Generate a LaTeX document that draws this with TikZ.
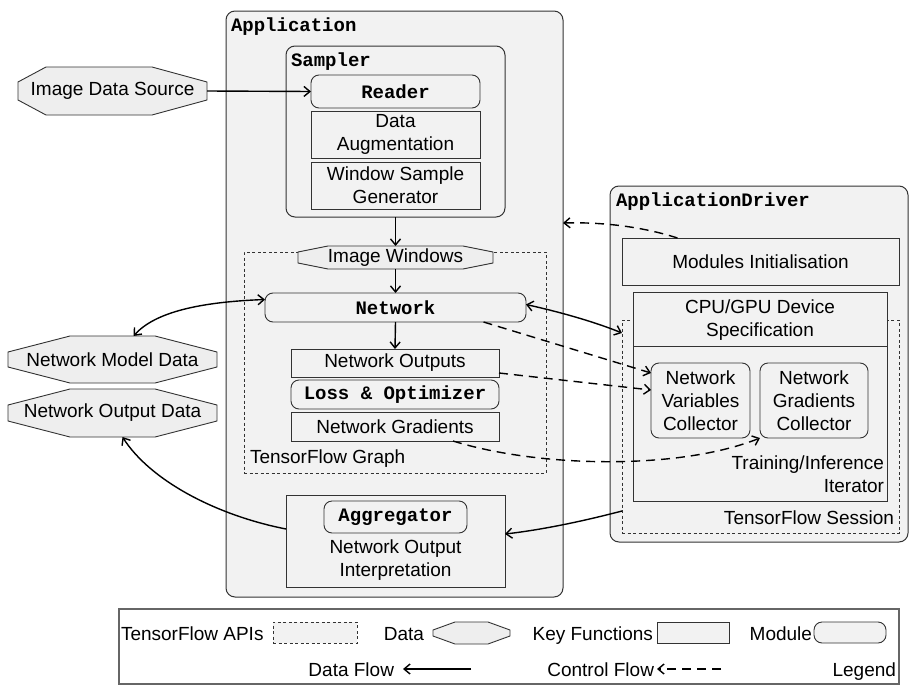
\documentclass[tikz,border=0pt]{standalone}
\usepackage{fontspec}
\setmainfont{Liberation Sans}
\newfontfamily\codefont{Liberation Mono}
\usetikzlibrary{arrows.meta,calc}
\definecolor{boxfill}{HTML}{F2F2F2}
\definecolor{datafill}{HTML}{EEEEEE}
\definecolor{edgec}{HTML}{333333}
\tikzset{
 base/.style={font=\fontsize{19}{23}\selectfont, inner sep=0pt, outer sep=0pt, align=center, text=black},
 keybox/.style={base, draw=edgec, fill=boxfill, line width=0.9pt},
 modbox/.style={keybox, rounded corners=8pt},
 contbox/.style={base, draw=edgec, fill=boxfill, line width=1pt, rounded corners=9pt},
 apibox/.style={base, draw=edgec, dash pattern=on 3pt off 2.5pt, line width=0.8pt},
 datashape/.style={draw=edgec, fill=datafill, line width=0.9pt},
 code/.style={font=\fontsize{19}{23}\selectfont\codefont\bfseries},
 lbl/.style={base},
 tip/.tip={Straight Barb[length=6pt,width=10pt]},
 flow/.style={line width=1.4pt, -tip},
 flowboth/.style={line width=1.4pt, tip-tip},
 ctrl/.style={flow, dash pattern=on 9pt off 6pt},
}
% box from corner to corner
\newcommand\bx[7][]{\node[#1, minimum width={(#5-#3)*1pt}, minimum height={(#6-#4)*1pt}] (#2) at ({(#3+#5)/2},{(#4+#6)/2}) {#7};}
% octagon data shape: name, x1,y1,x2,y2, left chamfer, right chamfer, vertical chamfer, text
\newcommand\octo[9]{%
 \draw[datashape] (#2,{#3+#8}) -- ({#2+#6},#3) -- ({#4-#7},#3) -- (#4,{#3+#8}) -- (#4,{#5-#8}) -- ({#4-#7},#5) -- ({#2+#6},#5) -- (#2,{#5-#8}) -- cycle;
 \node[base, minimum width={(#4-#2)*1pt}, minimum height={(#5-#3)*1pt}] (#1) at ({(#2+#4)/2},{(#3+#5)/2}) {#9};}
\begin{document}
\begin{tikzpicture}[x=1pt,y=-1pt]
\useasboundingbox (0,0) rectangle (910,688);
% ---------------- Application ----------------
\bx[contbox]{app}{226}{11}{563}{597}{}
\node[base, code, anchor=west] (apptitle) at (231,27) {Application};
\bx[contbox]{sampler}{286}{46}{505}{217}{}
\node[base, code, anchor=west] (samptitle) at (291,62) {Sampler};
\bx[modbox, code]{reader}{311}{75}{480}{108}{Reader}
\bx[keybox]{aug}{311}{111}{480}{158}{Data\\Augmentation}
\bx[keybox]{wsg}{311}{162}{480}{209}{Window Sample\\Generator}
% TensorFlow graph
\bx[apibox]{tfg}{244}{252}{546}{473}{}
\node[lbl, anchor=west] (tfgl) at (250,459) {TensorFlow Graph};
\octo{iw}{298}{246}{493}{269}{30}{30}{6}{Image Windows}
\bx[modbox, code]{net}{265}{293}{526}{322}{Network}
\bx[keybox]{netout}{291}{349}{499}{377}{Network Outputs}
\bx[modbox, code]{loss}{291}{380}{499}{409}{Loss \& Optimizer}
\bx[keybox]{netgrad}{291}{412}{499}{441}{Network Gradients}
% aggregator
\bx[keybox]{agg}{286}{495}{505}{587}{}
\bx[modbox, code]{aggr}{324}{501}{467}{533}{Aggregator}
\node[lbl] (aggtxt) at (395.5,560) {Network Output\\Interpretation};
% ---------------- ApplicationDriver ----------------
\bx[contbox]{drv}{610}{186}{908}{542}{}
\node[base, code, anchor=west] (drvtitle) at (616,202) {ApplicationDriver};
\bx[keybox]{modinit}{622}{238}{899}{285}{Modules Initialisation}
\bx[apibox]{tfs}{622}{320}{899}{533}{}
\node[lbl, anchor=east] (tfsl) at (894,518) {TensorFlow Session};
\bx[keybox]{cpu}{633}{292}{887}{501}{}
\draw[edgec, line width=0.9pt] (633,346) -- (887,346);
\node[lbl] (cputxt) at (760,320) {CPU/GPU Device\\Specification};
\bx[modbox]{nvc}{651}{363}{750}{438}{Network\\Variables\\Collector}
\bx[modbox]{ngc}{760}{363}{868}{438}{Network\\Gradients\\Collector}
\node[lbl, anchor=east, align=right] (iter) at (884,474) {Training/Inference\\Iterator};
% ---------------- data ----------------
\octo{ids}{18}{67}{207}{115}{28}{55}{15}{Image Data Source}
\octo{nmd}{8}{336}{217}{383}{62}{62}{16}{Network Model Data}
\octo{nod}{8}{389}{217}{437}{62}{62}{16}{Network Output Data}
% ---------------- connectors ----------------
\draw[flow] (ids.east) -- (reader.west);
\draw[flow] (sampler.south) -- (iw.north);
\draw[flow] (iw.south) -- (net.north);
\draw[flow] (net.south) -- (netout.north);
\draw[flowboth] ([yshift=8pt]net.west) .. controls (200,302) and (155,312) .. ([xshift=21pt]nmd.north);
\draw[flow] ([yshift=12pt]agg.west) .. controls (215,515) and (150,480) .. ([xshift=10pt]nod.south);
\draw[flowboth] ([yshift=3pt]net.east) .. controls (560,312) and (595,322) .. ([yshift=93.5pt]tfs.west);
\draw[ctrl] ([xshift=88pt]net.south) -- ([yshift=27.5pt]nvc.west);
\draw[ctrl] ([yshift=-10pt]netout.east) -- ([yshift=10.5pt]nvc.west);
\draw[ctrl] ([xshift=58pt]netgrad.south) .. controls (540,468) and (680,470) .. (ngc.south west);
\draw[ctrl] ([xshift=-83pt]modinit.north) .. controls (640,226) and (600,222) .. ([yshift=81pt]app.east);
\draw[flow] ([yshift=-84.5pt]tfs.west) .. controls (580,522) and (540,530) .. ([yshift=7pt]agg.east);
% ---------------- legend ----------------
\node[draw=black!60, line width=1.5pt, fill=white, inner sep=0pt, outer sep=0pt, minimum width=780pt, minimum height=75pt] (legend) at (509,646.5) {};
\node[lbl, anchor=base west] (lg1) at (121,640) {TensorFlow APIs};
\bx[apibox, fill=boxfill]{lgapi}{273}{622}{357}{643}{}
\node[lbl, anchor=base east] (lg2) at (424,640) {Data};
\octo{lgdata}{433}{622}{510}{644}{22}{22}{8}{}
\node[lbl, anchor=base east] (lg3) at (653,640) {Key Functions};
\bx[keybox]{lgkey}{657}{622}{729}{643}{}
\node[lbl, anchor=base east] (lg4) at (812,640) {Module};
\bx[modbox]{lgmod}{814}{622}{886}{643}{}
\node[lbl, anchor=base east] (lg5) at (394,676) {Data Flow};
\coordinate (dfA) at (471,669);
\coordinate (dfB) at (403,669);
\draw[flow] (dfA) -- (dfB);
\node[lbl, anchor=base east] (lg6) at (654,676) {Control Flow};
\coordinate (cfA) at (721,669);
\coordinate (cfB) at (657,669);
\draw[ctrl] (cfA) -- (cfB);
\node[lbl, anchor=base east] (lg7) at (896,676) {Legend};
\end{tikzpicture}
\end{document}
